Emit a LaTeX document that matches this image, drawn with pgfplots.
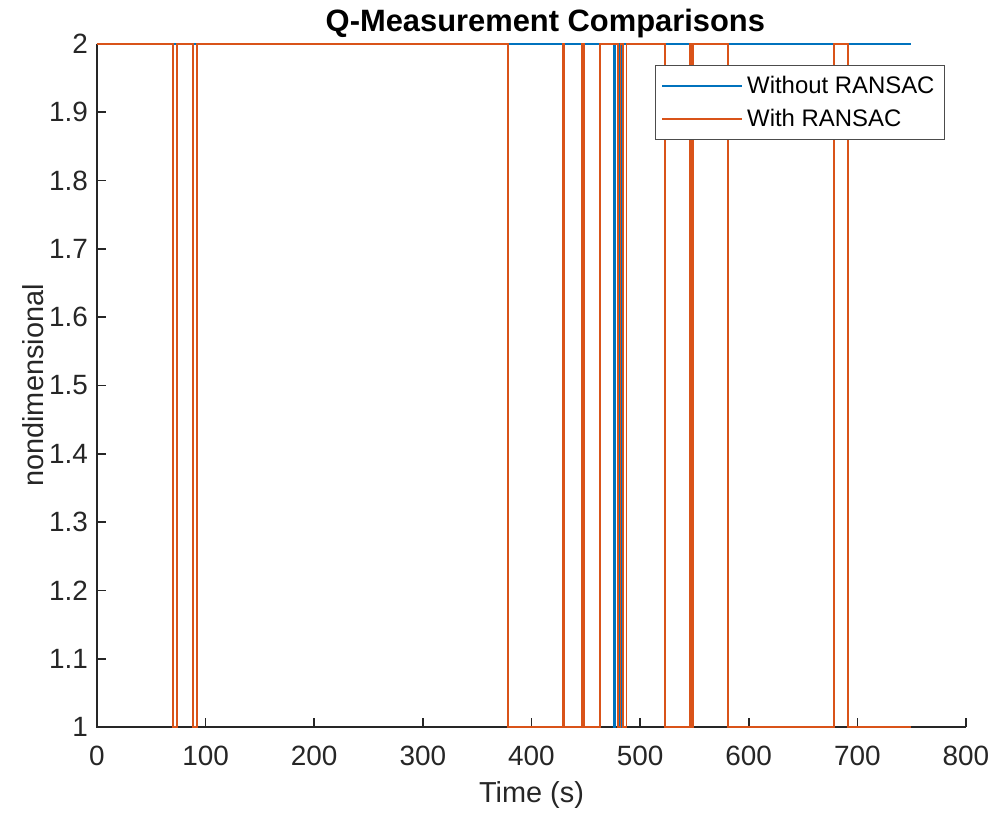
\documentclass[border=0pt]{standalone}
\usepackage{fontspec}
\setmainfont{Liberation Sans}
\usepackage{pgfplots}
\pgfplotsset{compat=1.18}

\definecolor{mblue}{rgb}{0,0.447,0.741}
\definecolor{morange}{rgb}{0.850,0.325,0.098}
\definecolor{axgray}{rgb}{0.15,0.15,0.15}

\begin{document}
\begin{tikzpicture}
\begin{axis}[
  at={(0,0)}, anchor=south west,
  scale only axis,
  width=434.5bp, height=341.5bp,
  xmin=0, xmax=800, ymin=1, ymax=2,
  axis x line=bottom, axis y line=left,
  axis line style={draw=none},
  every tick/.style={axgray, line width=0.8bp},
  major tick length=4.5bp,
  tick align=inside,
  xtick={0,100,...,800},
  ytick={1,1.1,1.2,1.3,1.4,1.5,1.6,1.7,1.8,1.9,2},
  yticklabels={1,1.1,1.2,1.3,1.4,1.5,1.6,1.7,1.8,1.9,2},
  /pgf/number format/assume math mode=true,
  tick label style={font=\fontsize{14}{16}\selectfont, text=axgray},
  xticklabel style={yshift=-6bp},
  yticklabel style={xshift=-1bp},
  clip=false,
  every axis title shift=0pt,
  title={Q-Measurement Comparisons},
  title style={at={(axis description cs:0.516,1.03)}, anchor=center,
    font=\fontsize{15.5}{18}\selectfont\bfseries},
  xlabel={Time (s)},
  xlabel style={at={(axis description cs:0.5,-0.0996)}, anchor=center,
    font=\fontsize{14.5}{17}\selectfont, text=axgray},
  ylabel={nondimensional},
  ylabel style={at={(axis description cs:-0.0736,0.5)}, anchor=center,
    font=\fontsize{14.5}{17}\selectfont, text=axgray},
  legend cell align=left,
  legend image code/.code={\draw[#1, line width=0.9bp] (0bp,0bp) -- (40bp,0bp);},
  legend style={at={(axis description cs:0.976,0.969)}, anchor=north east,
    draw=black!70, line width=0.6bp, fill=white,
    font=\fontsize{12}{14}\selectfont,
    inner xsep=3bp, inner ysep=3bp, row sep=2.5bp},
]
% axis lines first, so the traces lie over them
\draw[axgray, line width=0.8bp] (axis cs:0,2) -- (axis cs:0,1) -- (axis cs:800,1);
% Without RANSAC
\addplot[mblue, line width=0.8bp, line join=miter] coordinates {
  (0,2) (476,2) (476,1) (477.3,1) (477.3,2) (481,2) (481,1)
  (482.3,1) (482.3,2) (749,2)
};
\addlegendentry{Without RANSAC}
% With RANSAC
\addplot[morange, line width=0.9bp, line join=miter] coordinates {
  (0,2) (70,2) (70,1) (73.5,1) (73.5,2) (88.5,2) (88.5,1) (92,1) (92,2)
  (378.3,2) (378.3,1) (428.5,1) (428.5,2) (430,2) (430,1)
  (446.5,1) (446.5,2) (448,2) (448,1) (463,1) (463,2)
  (480,2) (480,1) (482,1) (482,2) (484.5,2) (484.5,1) (487.5,1) (487.5,2)
  (523,2) (523,1) (546,1) (546,2) (547,2) (547,1) (548.5,1) (548.5,2)
  (581,2) (581,1) (678.5,1) (678.5,2) (691.5,2) (691.5,1) (749,1)
};
\addlegendentry{With RANSAC}
\end{axis}
\pgfresetboundingbox
\path[use as bounding box] (-48.5bp,-43bp) rectangle (447.5bp,363.5bp);
\end{tikzpicture}
\end{document}
